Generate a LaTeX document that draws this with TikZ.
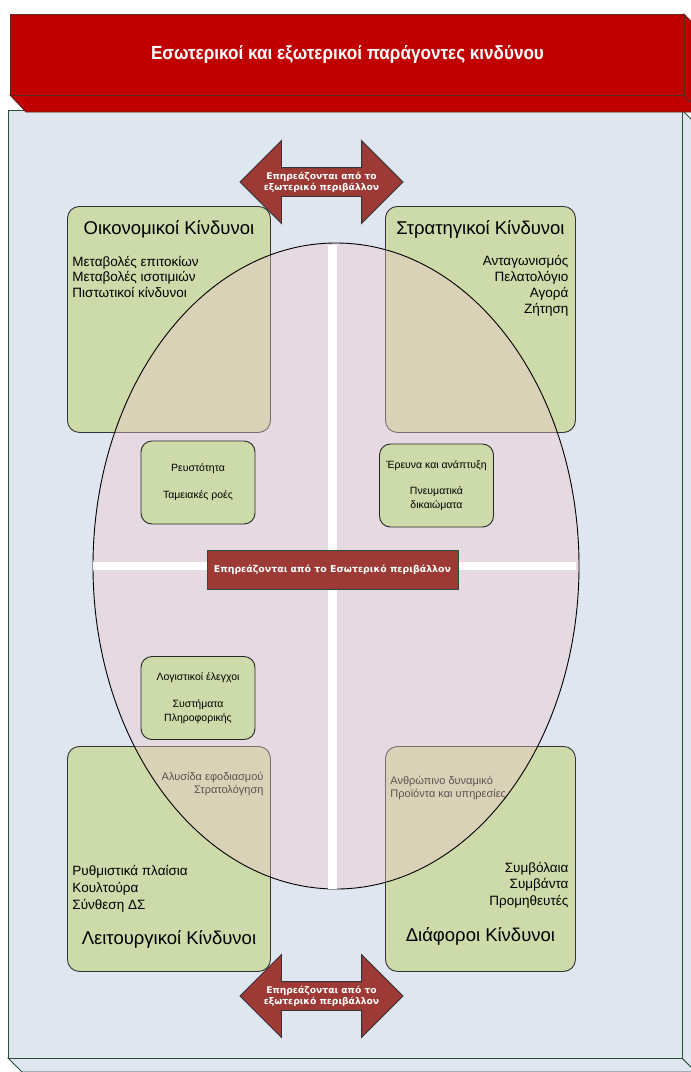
\documentclass[tikz,border=0pt]{standalone}
\usepackage{fontspec}
\setmainfont{Liberation Sans}
\newfontfamily\hdfont[FakeStretch=0.9]{Liberation Sans}
\newfontfamily\lblfont{DejaVu Sans}
\usetikzlibrary{shapes.arrows,shapes.geometric,positioning}
\definecolor{hdred}{RGB}{192,0,0}
\definecolor{hdedge}{RGB}{90,40,30}
\definecolor{panelblue}{RGB}{223,230,240}
\definecolor{paneledge}{RGB}{40,80,55}
\definecolor{riskgreen}{RGB}{204,219,169}
\definecolor{arrowred}{RGB}{158,58,53}
\definecolor{ovalpink}{RGB}{240,198,205}
\begin{document}
\begin{tikzpicture}[x=1pt,y=-1pt,line width=0.9pt,
    riskbox/.style={draw=black!80,fill=riskgreen,rounded corners=12pt,anchor=north west,inner sep=0pt},
    riskhead/.style={font=\fontsize{18.5}{22}\selectfont,anchor=base,inner sep=0pt},
    riskitem/.style={font=\fontsize{13.5}{16}\selectfont,inner sep=0pt},
    faintitem/.style={font=\fontsize{11}{13}\selectfont,inner sep=0pt},
    smallbox/.style={draw=black!85,fill=riskgreen,rounded corners=11pt,minimum width=114pt,minimum height=83pt,
        align=center,font=\fontsize{10.5}{13.5}\selectfont},
    envarrow/.style={double arrow,double arrow head extend=27pt,minimum height=163pt,inner sep=0pt,
        text height=14pt,text depth=14pt,draw=black!80,fill=arrowred},
    envtext/.style={text=white,align=center,inner sep=0pt,font=\lblfont\bfseries\fontsize{9.2}{11}\selectfont},
    inlabel/.style={draw=paneledge,fill=arrowred,text=white,minimum width=251pt,minimum height=39pt,
        font=\lblfont\bfseries\fontsize{9.4}{11}\selectfont}]
  \useasboundingbox (0,0) rectangle (691,1072);
  %% panel
  \draw[paneledge,fill=panelblue] (8,1058) -- (682,1058) -- (696,1072) -- (22,1072) -- cycle;
  \draw[paneledge,fill=panelblue] (682,110) -- (696,124) -- (696,1072) -- (682,1058) -- cycle;
  \draw[paneledge,fill=panelblue] (8,110) rectangle (682,1058);
  %% header
  \draw[hdedge,fill=hdred] (10,95) -- (684,95) -- (700,112) -- (26,112) -- cycle;
  \draw[hdedge,fill=hdred] (684,14) -- (700,31) -- (700,112) -- (684,95) -- cycle;
  \node[draw=hdedge,fill=hdred,anchor=north west,minimum width=674pt,minimum height=81pt,inner sep=0pt,
      text=white,font=\hdfont\bfseries\fontsize{19}{22}\selectfont] (header) at (10,14)
      {Εσωτερικοί και εξωτερικοί παράγοντες κινδύνου};
  %% four risk boxes
  \node[riskbox,minimum width=203pt,minimum height=226pt] (econ) at (67,206) {};
  \node[riskhead] (econ-head) at ([yshift=-28pt]econ.north) {Οικονομικοί Κίνδυνοι};
  \foreach \t [count=\i] in {Μεταβολές επιτοκίων,Μεταβολές ισοτιμιών,Πιστωτικοί κίνδυνοι}
      \node[riskitem,anchor=base west] (econ-\i) at ([xshift=5pt,yshift={-60-15.5*(\i-1)}]econ.north west) {\t};
  \node[riskbox,minimum width=190pt,minimum height=226pt] (strat) at (385,206) {};
  \node[riskhead] (strat-head) at ([yshift=-28pt]strat.north) {Στρατηγικοί Κίνδυνοι};
  \foreach \t [count=\i] in {Ανταγωνισμός,Πελατολόγιο,Αγορά,Ζήτηση}
      \node[riskitem,anchor=base east] (strat-\i) at ([xshift=-7pt,yshift={-59-16*(\i-1)}]strat.north east) {\t};
  \node[riskbox,minimum width=203pt,minimum height=225pt] (ops) at (67,746) {};
  \foreach \t [count=\i] in {Αλυσίδα εφοδιασμού,Στρατολόγηση}
      \node[faintitem,anchor=base east] (ops-f\i) at ([xshift=-7pt,yshift={-34-13*(\i-1)}]ops.north east) {\t};
  \foreach \t [count=\i] in {Ρυθμιστικά πλαίσια,Κουλτούρα,Σύνθεση ΔΣ}
      \node[riskitem,anchor=base west] (ops-\i) at ([xshift=5pt,yshift={-129-17*(\i-1)}]ops.north west) {\t};
  \node[riskhead] (ops-head) at ([yshift=-198pt]ops.north) {Λειτουργικοί Κίνδυνοι};
  \node[riskbox,minimum width=190pt,minimum height=225pt] (misc) at (385,746) {};
  \foreach \t [count=\i] in {Ανθρώπινο δυναμικό,Προϊόντα και υπηρεσίες}
      \node[faintitem,anchor=base west] (misc-f\i) at ([xshift=5pt,yshift={-38-13*(\i-1)}]misc.north west) {\t};
  \foreach \t [count=\i] in {Συμβόλαια,Συμβάντα,Προμηθευτές}
      \node[riskitem,anchor=base east] (misc-\i) at ([xshift=-7pt,yshift={-126-16.5*(\i-1)}]misc.north east) {\t};
  \node[riskhead] (misc-head) at ([yshift=-195pt]misc.north) {Διάφοροι Κίνδυνοι};
  %% oval and cross
  \node[ellipse,draw=black,fill=ovalpink,fill opacity=0.4,minimum width=486pt,minimum height=646pt,inner sep=0pt]
      (oval) at (336,566) {};
  \draw[white,line width=9pt] (332,245) -- (332,889);
  \draw[white,line width=8pt] (oval.west) -- ([xshift=-3pt]oval.east);
  %% inner factors
  \node[smallbox] (cash) at (198,482.5) {Ρευστότητα\\[13.5pt]Ταμειακές ροές};
  \node[smallbox] (rnd) at (436.5,485.5) {Έρευνα και ανάπτυξη\\[12.5pt]Πνευματικά\\δικαιώματα};
  \node[smallbox] (acct) at (198,698) {Λογιστικοί έλεγχοι\\[13.5pt]Συστήματα\\Πληροφορικής};
  \node[inlabel] (inner) at (332.5,569.5) {Επηρεάζονται από το Εσωτερικό περιβάλλον};
  %% outer arrows
  \node[envarrow] (topArrow) at (321.5,182) {};
  \node[envtext] at (topArrow.center) {Επηρεάζονται από το\\εξωτερικό περιβάλλον};
  \node[envarrow] (botArrow) at (321.5,996) {};
  \node[envtext] at (botArrow.center) {Επηρεάζονται από το\\εξωτερικό περιβάλλον};
\end{tikzpicture}
\end{document}
